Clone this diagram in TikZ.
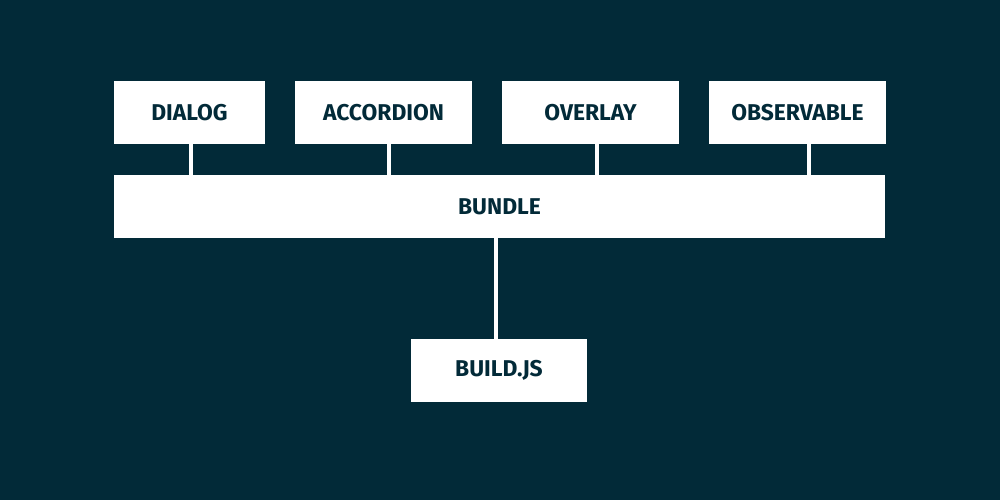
\documentclass[tikz,border=0pt]{standalone}
\usepackage{fontspec}
\setmainfont{Fira Sans}
\usetikzlibrary{positioning}
\definecolor{deepteal}{HTML}{022A38}

\begin{document}
\begin{tikzpicture}[x=0.02cm, y=-0.02cm,
    box/.style={rectangle, fill=white, draw=none, inner sep=0pt,
                minimum height=1.26cm, text=deepteal,
                font=\fontsize{13}{15}\selectfont\bfseries},
    link/.style={draw=white, line width=4*0.567pt}]

    % background
    \fill[deepteal] (0,0) rectangle (1000,500);
    \useasboundingbox (0,0) rectangle (1000,500);

    % top row of modules
    \node[box, minimum width=3.02cm] (Dialog) at (189.5,112.5) {DIALOG};
    \node[box, minimum width=3.54cm] (Accordion) at (383.5,112.5) {ACCORDION};
    \node[box, minimum width=3.54cm] (Overlay) at (590.5,112.5) {OVERLAY};
    \node[box, minimum width=3.54cm] (Observable) at (797.5,112.5) {OBSERVABLE};

    % bundle bar
    \node[box, minimum width=15.42cm] (Bundle) at (499.5,206.5) {BUNDLE};

    % build script
    \node[box, minimum width=3.52cm] (Build_js) at (499,370.5) {BUILD.JS};

    % connectors
    \draw[link] ([xshift=1.5*0.02cm]Dialog.south) -- ([xshift=1.5*0.02cm]Dialog.south |- Bundle.north);
    \draw[link] ([xshift=5.5*0.02cm]Accordion.south) -- ([xshift=5.5*0.02cm]Accordion.south |- Bundle.north);
    \draw[link] ([xshift=6.5*0.02cm]Overlay.south) -- ([xshift=6.5*0.02cm]Overlay.south |- Bundle.north);
    \draw[link] ([xshift=11.5*0.02cm]Observable.south) -- ([xshift=11.5*0.02cm]Observable.south |- Bundle.north);
    \draw[link] ([xshift=-3*0.02cm]Build_js.north) -- ([xshift=-3*0.02cm]Build_js.north |- Bundle.south);

\end{tikzpicture}
\end{document}
